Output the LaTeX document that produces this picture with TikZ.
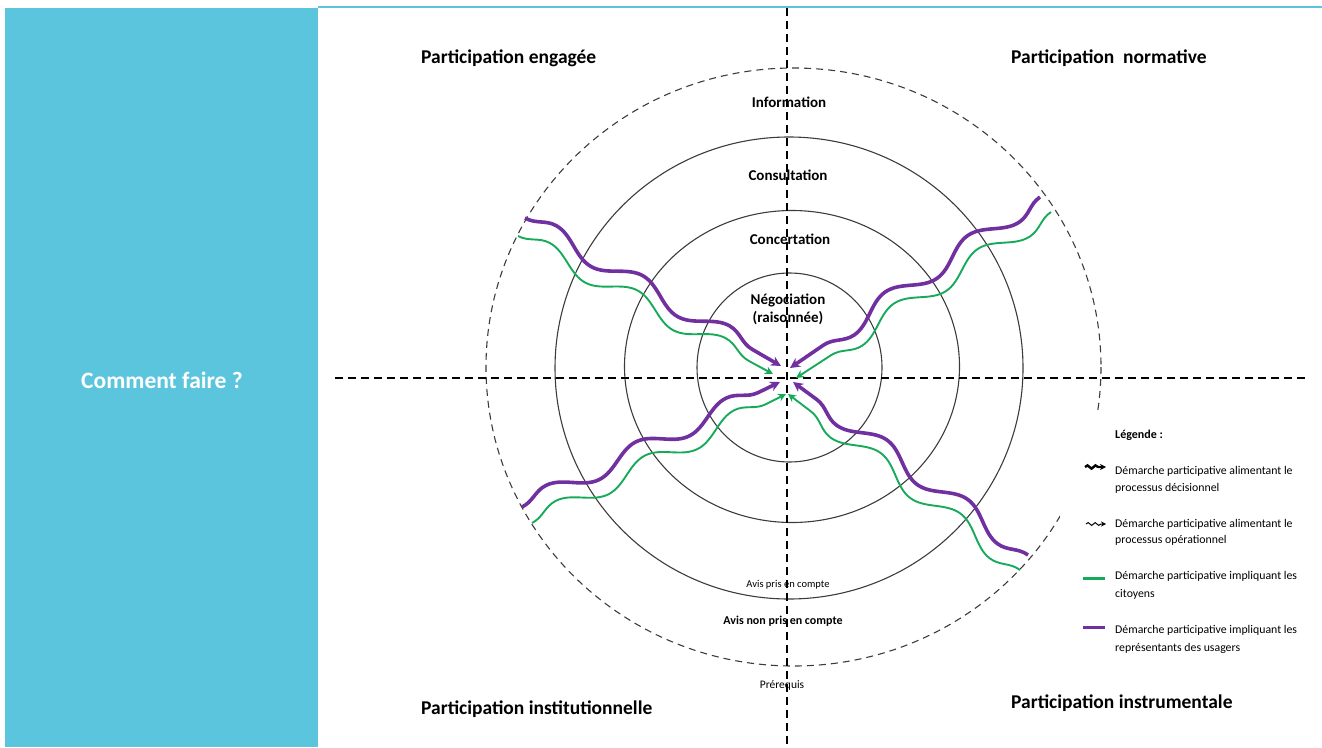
\documentclass[tikz,border=0pt]{standalone}
\usepackage{fontspec}
\setmainfont{Carlito}
\usetikzlibrary{arrows.meta,decorations.pathmorphing}
\definecolor{panelblue}{RGB}{91,197,222}
\definecolor{wpurple}{RGB}{112,48,160}
\definecolor{wgreen}{RGB}{22,170,90}
\definecolor{ringgray}{RGB}{60,60,60}
\begin{document}
\begin{tikzpicture}[x=1pt,y=-1pt,
  ring/.style={draw=ringgray, line width=1.1pt},
  outerring/.style={draw=ringgray, line width=1.1pt, dash pattern=on 7pt off 5pt},
  axisline/.style={draw=black, line width=1.1pt, dash pattern=on 8pt off 5pt},
  purplewave/.style={draw=wpurple, line width=3.6pt, decorate,
    decoration={snake, amplitude=9pt, segment length=100pt, post length=10pt},
    -{Stealth[length=10pt,width=10pt]}},
  greenwave/.style={draw=wgreen, line width=1.9pt, decorate,
    decoration={snake, amplitude=9pt, segment length=100pt, post length=8pt},
    -{Stealth[length=8pt,width=8pt]}},
  titletext/.style={font=\fontsize{19.5}{22}\selectfont\bfseries, anchor=base west, inner sep=0pt},
  ringlabel/.style={font=\fontsize{15}{17}\selectfont\bfseries, anchor=base, inner sep=0pt},
  smalllabel/.style={font=\fontsize{10.5}{12}\selectfont, anchor=base, inner sep=0pt},
  legtext/.style={font=\fontsize{11.8}{14}\selectfont, anchor=base west, inner sep=0pt},
]
\useasboundingbox (0,0) rectangle (1322,747);
% left panel
\fill[panelblue] (5,8) rectangle (318,747);
\draw[panelblue, line width=2pt] (318,7) -- (1322,7);
\node[text=white, font=\fontsize{23.5}{26}\selectfont\bfseries] (howto) at (162,380) {Comment faire ?};

% rings
\draw[outerring] (793.5,367) ellipse [x radius=307.5, y radius=299];
\draw[ring] (789,368) ellipse [x radius=234, y radius=231];
\draw[ring] (792,366.5) ellipse [x radius=167.5, y radius=156];
\draw[ring] (789.5,367.5) ellipse [x radius=92.5, y radius=94.5];

% legend backdrop
\fill[white] (1060,410) rectangle (1322,662);

% axes
\coordinate (axT) at (787,8);
\coordinate (axB) at (787,747);
\coordinate (axL) at (335,378);
\coordinate (axR) at (1305,378);
\draw[axisline] (axT) -- (axB);
\draw[axisline] (axL) -- (axR);

% titles
\node[titletext] (tEng) at (421,63) {Participation engagée};
\node[titletext] (tNorm) at (1011,63) {Participation\ \ normative};
\node[titletext] (tInst) at (421,714) {Participation institutionnelle};
\node[titletext] (tInstr) at (1011,708) {Participation instrumentale};

% ring labels
\node[ringlabel] (lInfo) at (789,107) {Information};
\node[ringlabel] (lCons) at (788,180) {Consultation};
\node[ringlabel] (lConc) at (790,244) {Concertation};
\node[ringlabel] (lNeg) at (788,304) {Négociation};
\node[ringlabel] (lRais) at (788,322) {(raisonnée)};
\node[smalllabel] (lPris) at (788,587) {Avis pris en compte};
\node[smalllabel, font=\fontsize{12}{14}\selectfont\bfseries] (lNon) at (783,624) {Avis non pris en compte};
\node[smalllabel, font=\fontsize{11.5}{13}\selectfont] (lPre) at (782,688) {Prérequis};

% wave endpoints
\coordinate (nwP0) at (525,218); \coordinate (nwP1) at (781,366);
\coordinate (nwG0) at (518,236); \coordinate (nwG1) at (773,374);
\coordinate (neP0) at (1040,197); \coordinate (neP1) at (790,368);
\coordinate (neG0) at (1051,212); \coordinate (neG1) at (796,378);
\coordinate (swP0) at (522,507); \coordinate (swP1) at (780,382);
\coordinate (swG0) at (532,523); \coordinate (swG1) at (786,394);
\coordinate (seP0) at (1028,555); \coordinate (seP1) at (793,382);
\coordinate (seG0) at (1020,570); \coordinate (seG1) at (788,394);

\draw[greenwave] (nwG0) -- (nwG1);
\draw[purplewave] (nwP0) -- (nwP1);
\draw[greenwave] (neG0) -- (neG1);
\draw[purplewave] (neP0) -- (neP1);
\draw[greenwave] (swG0) -- (swG1);
\draw[purplewave] (swP0) -- (swP1);
\draw[greenwave] (seG0) -- (seG1);
\draw[purplewave] (seP0) -- (seP1);

% legend
\node[legtext, font=\fontsize{12}{14}\selectfont\bfseries] (legT) at (1115,438) {Légende :};
\coordinate (k1a) at (1085,467); \coordinate (k1b) at (1106,467);
\draw[line width=2.4pt, decorate, decoration={snake, amplitude=1.6pt, segment length=8pt, post length=5pt}, -{Stealth[length=6pt,width=6pt]}] (k1a) -- (k1b);
\node[legtext] (leg1a) at (1115,474) {Démarche participative alimentant le};
\node[legtext] (leg1b) at (1115,491) {processus décisionnel};
\coordinate (k2a) at (1086,524); \coordinate (k2b) at (1106,524);
\draw[line width=1pt, decorate, decoration={snake, amplitude=1.4pt, segment length=7pt, post length=4pt}, -{Stealth[length=5pt,width=5pt]}] (k2a) -- (k2b);
\node[legtext] (leg2a) at (1115,527) {Démarche participative alimentant le};
\node[legtext] (leg2b) at (1115,543) {processus opérationnel};
\coordinate (k3a) at (1083,578); \coordinate (k3b) at (1105,578);
\draw[wgreen, line width=3pt] (k3a) -- (k3b);
\node[legtext] (leg3a) at (1115,579) {Démarche participative impliquant les};
\node[legtext] (leg3b) at (1115,597) {citoyens};
\coordinate (k4a) at (1083,627); \coordinate (k4b) at (1105,627);
\draw[wpurple, line width=3pt] (k4a) -- (k4b);
\node[legtext] (leg4a) at (1115,633) {Démarche participative impliquant les};
\node[legtext] (leg4b) at (1115,651) {représentants des usagers};
\end{tikzpicture}
\end{document}
